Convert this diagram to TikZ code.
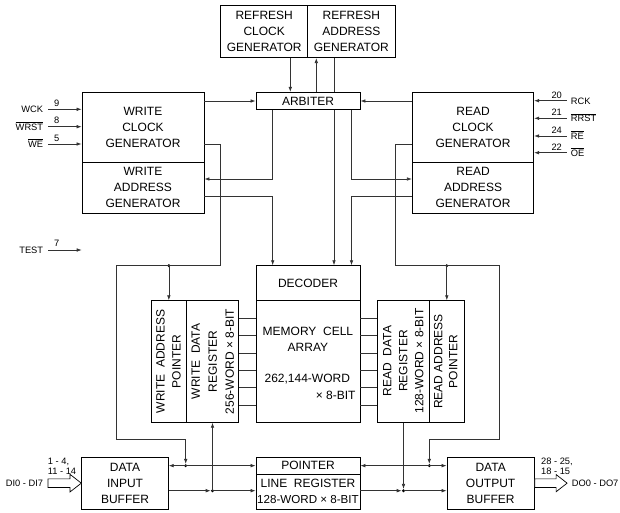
\documentclass[tikz,border=0pt]{standalone}
\usepackage{fontspec}
\setmainfont{Liberation Sans}
\usetikzlibrary{arrows.meta}
\newcommand{\ovl}[1]{$\overline{\mbox{#1}}$}
\newcommand{\bxf}{\fontsize{12}{16}\selectfont}
\newcommand{\bxs}{\fontsize{11.6}{16}\selectfont}
\newcommand{\smf}{\fontsize{9.3}{9}\selectfont}
\begin{document}
\begin{tikzpicture}[x=1pt,y=-1pt,
  box/.style={draw=black, line width=0.8pt, fill=white, inner sep=0pt, align=center, font=\bxf},
  txt/.style={inner sep=0pt, align=center, font=\bxf},
  conn/.style={draw=black!80, line width=0.7pt},
  arr/.style={conn, -{Latex[length=5pt,width=3.6pt]}},
  arrb/.style={conn, {Latex[length=5pt,width=3.6pt]}-{Latex[length=5pt,width=3.6pt]}},
  jdot/.style={circle, fill=black, inner sep=0pt, minimum size=3.2pt},
  pinl/.style={anchor=east, inner xsep=5pt, inner ysep=0pt, text height=6.7pt, text depth=0pt, font=\smf},
  pinr/.style={anchor=west, inner xsep=4pt, inner ysep=0pt, text height=6.7pt, text depth=0pt, font=\smf},
  num/.style={inner sep=0pt, font=\smf},
  bus/.style={draw=black, line width=0.7pt, fill=white, line join=miter}
]
\useasboundingbox (0,0) rectangle (620,513);

% ---------- boxes ----------
\node[box, minimum width=87pt, minimum height=52.7pt] (refclk) at (264.2,31.3) {REFRESH\\CLOCK\\GENERATOR};
\node[box, minimum width=87.3pt, minimum height=52.7pt] (refaddr) at (351.35,31.3) {REFRESH\\ADDRESS\\GENERATOR};
\node[box, minimum width=104pt, minimum height=17.4pt] (arb) at (308,101) {ARBITER};
\node[box, minimum width=122pt, minimum height=69.7pt] (wclk) at (143,127.15) {WRITE\\CLOCK\\GENERATOR};
\node[box, minimum width=122pt, minimum height=51.3pt] (waddr) at (143,187.65) {WRITE\\ADDRESS\\GENERATOR};
\node[box, minimum width=121.4pt, minimum height=69.7pt] (rclk) at (473,127.15) {READ\\CLOCK\\GENERATOR};
\node[box, minimum width=121.4pt, minimum height=51.3pt] (raddr) at (473,187.65) {READ\\ADDRESS\\GENERATOR};
\node[box, minimum width=104pt, minimum height=35pt] (dec) at (308,283.2) {DECODER};
\node[box, minimum width=104pt, minimum height=121.6pt] (mem) at (308,361.5) {};
\node[box, minimum width=35.7pt, minimum height=121.6pt] (wap) at (168.85,361.5) {};
\node[box, minimum width=51.6pt, minimum height=121.6pt] (wdr) at (212.5,361.5) {};
\node[box, minimum width=51.6pt, minimum height=121.6pt] (rdr) at (403.5,361.5) {};
\node[box, minimum width=35pt, minimum height=121.6pt] (rap) at (446.8,361.5) {};
\node[box, minimum width=86.6pt, minimum height=51.7pt] (dib) at (125,483.15) {DATA\\INPUT\\BUFFER};
\node[box, minimum width=104pt, minimum height=16.7pt] (ptr) at (308,465.65) {POINTER};
\node[box, minimum width=104pt, minimum height=35pt] (lreg) at (308,491.5) {LINE\ \ REGISTER\\{\bxs 128-WORD × 8-BIT}};
\node[box, minimum width=87.3pt, minimum height=51.7pt] (dob) at (490.65,483.15) {DATA\\OUTPUT\\BUFFER};

% ---------- texts inside memory and registers ----------
\node[txt] (memt) at (307.9,339.8) {MEMORY\ \ CELL\\ARRAY};
\node[txt] (memw) at (307.3,379.3) {262,144-WORD};
\node[txt, anchor=east] (memb) at (355.7,395.7) {× 8-BIT};
\node[txt, rotate=90] (wapt) at (168.4,361.5) {WRITE\ \ ADDRESS\\POINTER};
\node[txt, rotate=90, font=\fontsize{12}{17}\selectfont] (wdrt) at (212.8,361.5) {WRITE\ \ DATA\\REGISTER\\256-WORD × 8-BIT};
\node[txt, rotate=90] (rdrt) at (403.3,361) {READ\ \ DATA\\REGISTER\\128-WORD × 8-BIT};
\node[txt, rotate=90, font=\fontsize{12}{15}\selectfont] (rapt) at (445.8,361.5) {READ\ ADDRESS\\POINTER};

% ---------- junction dots ----------
\node[jdot] (j1) at (wap.north |- 0,265.7) {};
\node[jdot] (j2) at (185.7,465.65) {};
\node[jdot] (j3) at (wdr.south |- 0,490.7) {};
\node[jdot] (j4) at (rap.north |- 0,265.7) {};
\node[jdot] (j5) at (429.3,465.65) {};
\node[jdot] (j6) at (rdr.south |- 0,490.7) {};

% ---------- refresh / arbiter ----------
\draw[arr] (290.3,0 |- refclk.south) -- (290.3,0 |- arb.north);
\draw[arr] (316.3,0 |- arb.north) -- (316.3,0 |- refaddr.south);
\draw[arr] (334,0 |- refaddr.south) -- (334,0 |- arb.north) (334,0 |- arb.south) -- (334,0 |- dec.north);
\draw[arr] (wclk.east |- arb.west) -- (arb.west);
\draw[arr] (rclk.west |- arb.east) -- (arb.east);
\draw[arr] (272.7,0 |- arb.south) |- (waddr.east |- 0,179);
\draw[arr] (351.5,0 |- arb.south) |- (raddr.west |- 0,179);
\draw[arr] (waddr.east |- 0,196.7) -| (272.7,0 |- dec.north);
\draw[arr] (raddr.west |- 0,196.7) -| (351.5,0 |- dec.north);

% ---------- clock routes ----------
\draw[arr] (wclk.east |- 0,144) -| (220.7,265.7) -| (116.7,439.3) -| (j2.north);
\draw[arr] (j1.center) -- (wap.north);
\draw[arr] (rclk.west |- 0,144) -| (395,265.7) -| (499.3,439.3) -| (j5.north);
\draw[arr] (j4.center) -- (rap.north);

% ---------- register / memory links ----------
\foreach \yy in {318.3,335.7,353.3,370,387.3,405} {
  \draw[conn] (wdr.east |- 0,\yy) -- (mem.west |- 0,\yy);
  \draw[conn] (mem.east |- 0,\yy) -- (rdr.west |- 0,\yy);
}

% ---------- bottom data paths ----------
\draw[arrb] (dib.east |- ptr.west) -- (ptr.west);
\draw[arrb] (ptr.east) -- (dob.west |- ptr.east);
\draw[arr] (dib.east |- j3) -- (j3.west);
\draw[arr] (j3.center) -- (lreg.west |- j3);
\draw[arr] (j3.center) -- (wdr.south);
\draw[arr] (lreg.east |- j6) -- (j6.west);
\draw[arr] (j6.center) -- (dob.west |- j6);
\draw[arr] (rdr.south) -- (j6.north);

% ---------- bus arrows ----------
\draw[bus] (dib.west) -- ++(-11.3,-8.8) -- ++(0,4.5) -- ++(-22,0) -- ++(0,8.6) -- ++(22,0) -- ++(0,4.5) -- cycle;
\draw[bus] (dob.east) ++(0,-4.3) -- ++(21.4,0) -- ++(0,-4.3) -- ++(11,8.6) -- ++(-11,8.6) -- ++(0,-4.3) -- ++(-21.4,0) -- cycle;
\node[num, anchor=west] (din1) at (47.7,462.3) {1 - 4,};
\node[num, anchor=west] (din2) at (47.7,471) {11 - 14};
\node[pinl] (dinl) at (48.3,483.5) {DI0 - DI7};
\node[num, anchor=west] (dout1) at (541,462.3) {28 - 25,};
\node[num, anchor=west] (dout2) at (541,471) {18 - 15};
\node[pinr] (doutl) at (567.7,483.2) {DO0 - DO7};

% ---------- write pins ----------
\node[pinl] (wck) at (48.3,109.3) {WCK};
\draw[arr] (wck.east) -- (wclk.west |- wck.east);
\node[num] (wckn) at (56.7,103.3) {9};
\node[pinl] (wrst) at (48.3,126.7) {\ovl{WRST}};
\draw[arr] (wrst.east) -- (wclk.west |- wrst.east);
\node[num] (wrstn) at (56.7,120.7) {8};
\node[pinl] (we) at (48.3,144) {\ovl{WE}};
\draw[arr] (we.east) -- (wclk.west |- we.east);
\node[num] (wen) at (56.7,138) {5};
\node[pinl] (test) at (48.3,250) {TEST};
\coordinate (testend) at (81.7,250);
\draw[arr] (test.east) -- (testend);
\node[num] (testn) at (56.7,243.5) {7};

% ---------- read pins ----------
\node[pinr] (rck) at (566.7,100.7) {RCK};
\draw[arr] (rck.west) -- (rclk.east |- rck.west);
\node[num] (rckn) at (556.7,95) {20};
\node[pinr] (rrst) at (566.7,118.3) {\ovl{RRST}};
\draw[arr] (rrst.west) -- (rclk.east |- rrst.west);
\node[num] (rrstn) at (556.7,112.6) {21};
\node[pinr] (re) at (566.7,136) {\ovl{RE}};
\draw[arr] (re.west) -- (rclk.east |- re.west);
\node[num] (ren) at (556.7,130.3) {24};
\node[pinr] (oe) at (566.7,152.7) {\ovl{OE}};
\draw[arr] (oe.west) -- (rclk.east |- oe.west);
\node[num] (oen) at (556.7,147) {22};
\end{tikzpicture}
\end{document}
